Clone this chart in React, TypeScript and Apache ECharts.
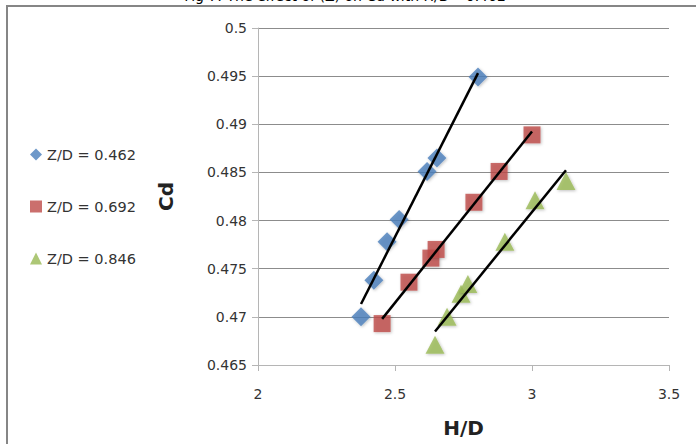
import React, { useEffect, useRef } from "react";
import * as echarts from "echarts";

const seriesNames = ["Z/D = 0.462", "Z/D = 0.692", "Z/D = 0.846"];

const hd462 = [2.376, 2.423, 2.471, 2.515, 2.617, 2.653, 2.803];
const cd462 = [0.47, 0.4738, 0.4778, 0.4801, 0.4851, 0.4865, 0.4949];

const hd692 = [2.453, 2.551, 2.631, 2.65, 2.788, 2.88, 3.0];
const cd692 = [0.4693, 0.4736, 0.4761, 0.477, 0.4819, 0.4851, 0.4889];

const hd846 = [2.646, 2.69, 2.741, 2.766, 2.901, 3.011, 3.124];
const cd846 = [0.4671, 0.47, 0.4724, 0.4734, 0.4778, 0.4821, 0.4841];

const colors = ["#4a7ebb", "#be4b48", "#98b954"];
const symbols = ["diamond", "rect", "triangle"];
const symbolSizes = [[19, 19], [17, 17], [19, 18]];

const titleText = "Fig 7: The effect of (Z) on Cd with H/D= 0.462";

function pairs(xs: number[], ys: number[]) {
  return xs.map((x, i) => [x, ys[i]]);
}

function trend(xs: number[], ys: number[]) {
  const n = xs.length;
  const mx = xs.reduce((a, b) => a + b, 0) / n;
  const my = ys.reduce((a, b) => a + b, 0) / n;
  let sxy = 0;
  let sxx = 0;
  for (let i = 0; i < n; i++) {
    sxy += (xs[i] - mx) * (ys[i] - my);
    sxx += (xs[i] - mx) * (xs[i] - mx);
  }
  const b = sxy / sxx;
  const a = my - b * mx;
  const x0 = Math.min(...xs);
  const x1 = Math.max(...xs);
  return [
    [x0, a + b * x0],
    [x1, a + b * x1],
  ];
}

export default function App() {
  const ref = useRef<HTMLDivElement>(null);
  useEffect(() => {
    if (!ref.current) return;
    const chart = echarts.init(ref.current, null, { renderer: "svg" });
    const xsAll = [hd462, hd692, hd846];
    const ysAll = [cd462, cd692, cd846];
    const scatter = seriesNames.map((name, i) => ({
      name,
      type: "scatter",
      data: pairs(xsAll[i], ysAll[i]),
      symbol: symbols[i],
      symbolSize: symbolSizes[i],
      itemStyle: {
        color: colors[i],
        shadowColor: "rgba(0,0,0,0.3)",
        shadowBlur: 3,
        shadowOffsetX: 1,
        shadowOffsetY: 1,
      },
      z: 2,
    }));
    const lines = seriesNames.map((name, i) => ({
      name: name + " trend",
      type: "line",
      data: trend(xsAll[i], ysAll[i]),
      showSymbol: false,
      symbol: "none",
      lineStyle: { color: "#000", width: 2.5 },
      z: 3,
      silent: true,
    }));
    chart.setOption({
      animation: false,
      backgroundColor: "#fff",
      textStyle: { fontFamily: "DejaVu Sans" },
      grid: { left: 258, top: 28, width: 411, height: 337 },
      graphic: [
        {
          type: "rect",
          shape: { x: 7, y: 6, width: 720, height: 460 },
          style: { fill: "none", stroke: "#868686", lineWidth: 2 },
          silent: true,
        },
        {
          type: "text",
          x: 345,
          y: -11,
          style: {
            text: titleText,
            fontFamily: "DejaVu Sans",
            fontSize: 14,
            fill: "#000",
            textAlign: "center",
            textVerticalAlign: "top",
          },
          silent: true,
        },
      ],
      legend: {
        data: seriesNames.map((n, i) => ({ name: n, icon: symbols[i] })),
        orient: "vertical",
        left: 25,
        top: 142,
        itemWidth: 12,
        itemHeight: 12,
        itemGap: 37,
        textStyle: { fontFamily: "DejaVu Sans", fontSize: 14.5, color: "#333" },
      },
      xAxis: {
        type: "value",
        min: 2,
        max: 3.5,
        interval: 0.5,
        name: "H/D",
        nameLocation: "middle",
        nameGap: 53,
        nameTextStyle: { fontFamily: "DejaVu Sans", fontWeight: "bold", fontSize: 20, color: "#222" },
        axisLine: { show: true, onZero: false, lineStyle: { color: "#b5b5b5", width: 1 } },
        axisTick: { show: true, length: 6, lineStyle: { color: "#b5b5b5" } },
        axisLabel: { fontFamily: "DejaVu Sans", fontSize: 14, color: "#333", margin: 22 },
        splitLine: { show: false },
      },
      yAxis: {
        type: "value",
        min: 0.465,
        max: 0.5,
        interval: 0.005,
        name: "Cd",
        nameLocation: "middle",
        nameGap: 82,
        nameRotate: 90,
        nameTextStyle: { fontFamily: "DejaVu Sans", fontWeight: "bold", fontSize: 20, color: "#222" },
        axisLine: { show: true, lineStyle: { color: "#b5b5b5", width: 1 } },
        axisTick: { show: true, length: 6, lineStyle: { color: "#b5b5b5" } },
        axisLabel: {
          fontFamily: "DejaVu Sans",
          fontSize: 14,
          color: "#333",
          margin: 11,
          formatter: (v: number) => String(parseFloat(v.toFixed(3))),
        },
        splitLine: { show: true, lineStyle: { color: "#8c8c8c", width: 1 } },
      },
      series: [...scatter, ...lines],
    });
    return () => chart.dispose();
  }, []);
  return <div ref={ref} style={{ width: 696, height: 444, position: "absolute", left: 0, top: 0 }} />;
}
